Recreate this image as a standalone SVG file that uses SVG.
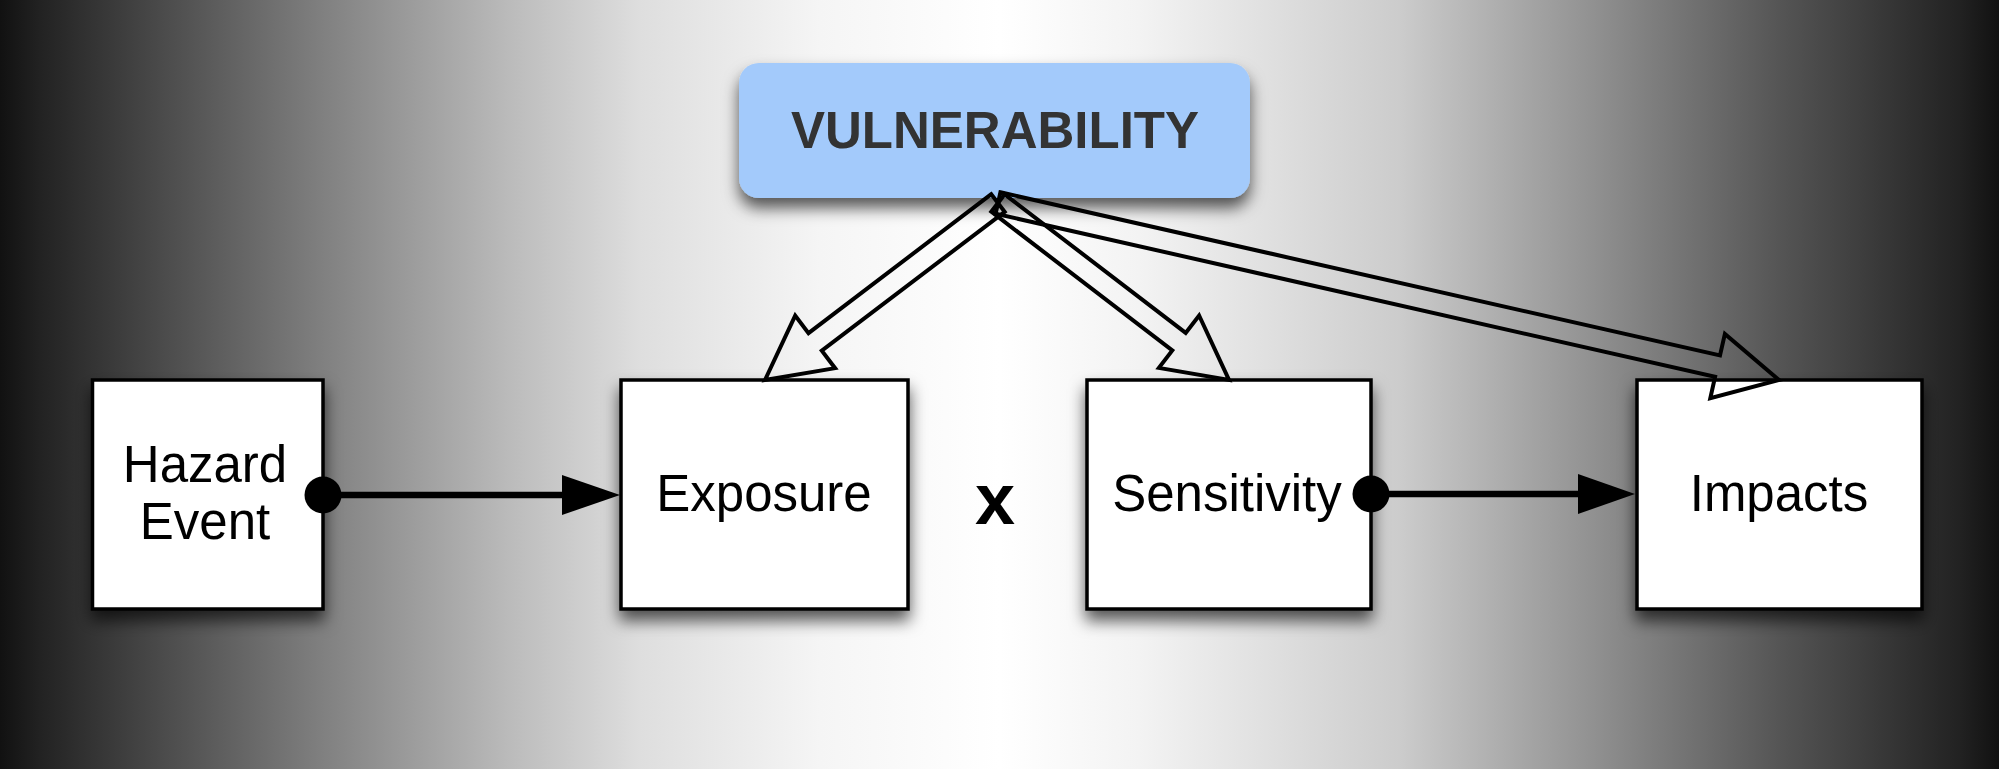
<svg xmlns="http://www.w3.org/2000/svg" width="1999" height="769" viewBox="0 0 1999 769">
  <defs>
    <linearGradient id="bg" x1="0" y1="0" x2="1" y2="0">
      <stop offset="0" stop-color="#111111"/>
      <stop offset="0.02" stop-color="#222222"/>
      <stop offset="0.065" stop-color="#404040"/>
      <stop offset="0.16" stop-color="#7f7f7f"/>
      <stop offset="0.255" stop-color="#bbbbbb"/>
      <stop offset="0.32" stop-color="#dedede"/>
      <stop offset="0.41" stop-color="#f5f5f5"/>
      <stop offset="0.5" stop-color="#ffffff"/>
      <stop offset="0.57" stop-color="#f3f3f3"/>
      <stop offset="0.7" stop-color="#cccccc"/>
      <stop offset="0.8" stop-color="#8f8f8f"/>
      <stop offset="0.89" stop-color="#555555"/>
      <stop offset="0.98" stop-color="#222222"/>
      <stop offset="1" stop-color="#111111"/>
    </linearGradient>
    <filter id="shadow" x="-20%" y="-20%" width="140%" height="150%">
      <feDropShadow dx="0" dy="10" stdDeviation="8" flood-color="#000" flood-opacity="0.65"/>
    </filter>
  </defs>
  <style>
    .box { fill: #ffffff; stroke: #000000; stroke-width: 3.5; filter: url(#shadow); }
    .label { font-family: "Liberation Sans", Arial, Helvetica, sans-serif; font-size: 51px; fill: #000000; text-anchor: middle; }
    .title { font-family: "Liberation Sans", Arial, Helvetica, sans-serif; font-size: 51px; font-weight: bold; fill: #333333; text-anchor: middle; }
    .hollow { fill: none; stroke: #000000; stroke-width: 4; stroke-linejoin: miter; }
    .line { stroke: #000000; stroke-width: 6.5; fill: none; }
    .dot { fill: #000000; }
    .head { fill: #000000; }
  </style>

  <rect x="0" y="0" width="1999" height="769" fill="url(#bg)"/>

  <g id="vulnerability">
    <rect x="739" y="63" width="511" height="135" rx="20" ry="20" fill="#a3cafb" filter="url(#shadow)"/>
    <text class="title" x="995" y="148">VULNERABILITY</text>
  </g>

  <g id="hazard-event">
    <rect class="box" x="92.5" y="380" width="230.5" height="229"/>
    <text class="label" x="205" y="482">Hazard</text>
    <text class="label" x="205" y="539">Event</text>
  </g>

  <g id="exposure">
    <rect class="box" x="621" y="380" width="287" height="229"/>
    <text class="label" x="764" y="511">Exposure</text>
  </g>

  <g id="multiply">
    <text x="995" y="524" font-family="Liberation Sans, Arial, Helvetica, sans-serif" font-size="72" font-weight="bold" fill="#000000" text-anchor="middle">x</text>
  </g>

  <g id="sensitivity">
    <rect class="box" x="1087" y="380" width="284" height="229"/>
    <text class="label" x="1227" y="511">Sensitivity</text>
  </g>

  <g id="impacts">
    <rect class="box" x="1637" y="380" width="285" height="229"/>
    <text class="label" x="1779" y="511">Impacts</text>
  </g>

  <g id="connectors">
    <line class="line" x1="323" y1="495" x2="566" y2="495"/>
    <polygon class="head" points="562,475 620,495 562,515"/>
    <circle class="dot" cx="323" cy="495" r="18.5"/>

    <line class="line" x1="1371" y1="494" x2="1582" y2="494"/>
    <polygon class="head" points="1578,474 1635,494 1578,514"/>
    <circle class="dot" cx="1371" cy="494" r="18.5"/>

    <polygon class="hollow" points="991.3,194.2 808.5,333.1 795.2,315.6 765,380 835.1,368.2 821.8,350.7 1004.7,211.8"/>
    <polygon class="hollow" points="1004.7,194.3 1185.7,332.9 1199.1,315.5 1229,380 1158.9,367.9 1172.3,350.4 991.3,211.7"/>
    <polygon class="hollow" points="1000.4,192.3 1720,355.4 1724.9,333.9 1779,380 1710.3,398.3 1715.1,376.8 995.6,213.7"/>
  </g>
</svg>
